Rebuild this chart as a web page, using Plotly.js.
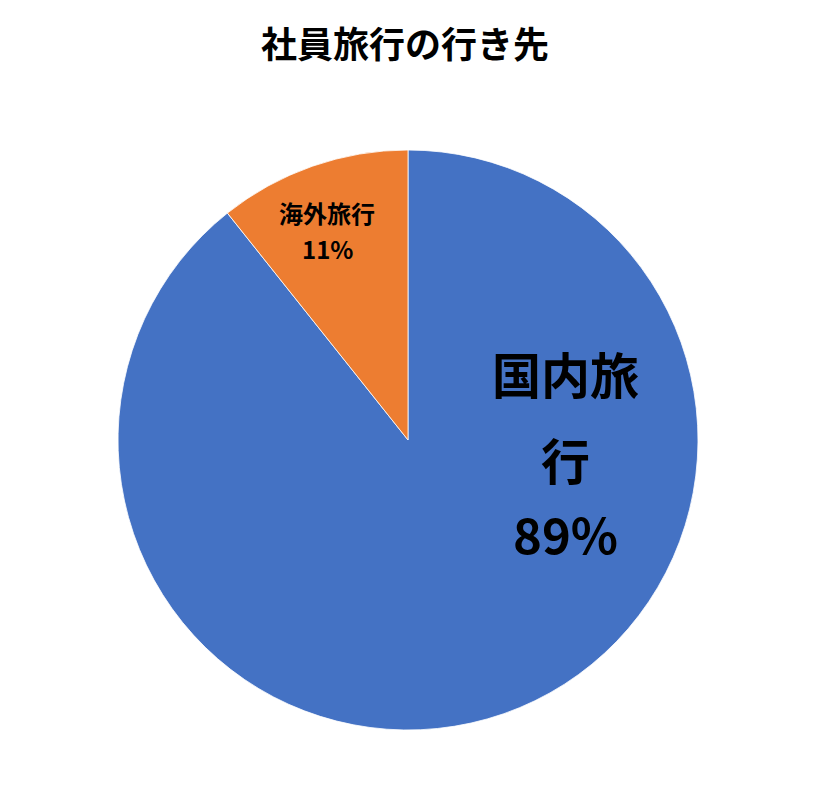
<!DOCTYPE html>
<html>
<head>
<meta charset="utf-8">
<script src="https://cdn.plot.ly/plotly-3.0.1.min.js"></script>
<style>
  html, body { margin: 0; padding: 0; background: #fff; }
  #chart { width: 816px; height: 798px; }
</style>
</head>
<body>
<div id="chart"></div>
<script>
// 社員旅行の行き先
const categories = ['国内旅行', '海外旅行'];
const values     = [89.3, 10.7];
const colors     = ['#4472C4', '#ED7D31'];

// ラベルの改行位置（参照画像どおり）
const labelLines = [['国内旅', '行'], ['海外旅行']];

const W = 816, H = 798;
const FONT = '"Noto Sans CJK JP", "Noto Sans", sans-serif';

// ── ラベル配置（ピクセル → paper座標） ─────────────
const labelStyle = [
  { x: 565, ys: [372, 458, 532], size: 49 },
  { x: 327, ys: [212, 248],      size: 24 },
];

const total = values.reduce((a, b) => a + b, 0);
const annotations = [];
categories.forEach((c, i) => {
  const pct = Math.round(values[i] / total * 100) + '%';
  const lines = [...labelLines[i], pct];
  const st = labelStyle[i];
  lines.forEach((t, k) => {
    annotations.push({
      xref: 'paper', yref: 'paper',
      x: st.x / W, y: 1 - st.ys[k] / H,
      xanchor: 'center', yanchor: 'middle',
      text: '<b>' + t + '</b>', showarrow: false,
      font: { family: FONT, size: st.size, color: '#000' },
    });
  });
});

const cx = 408, cy = 440, r = 290;

Plotly.newPlot('chart', [{
  type: 'pie',
  labels: categories,
  values,
  sort: false,
  direction: 'clockwise',
  rotation: 0,
  textinfo: 'none',
  hoverinfo: 'label+percent',
  marker: { colors, line: { color: '#fff', width: 0.8 } },
  domain: {
    x: [(cx - r) / W, (cx + r) / W],
    y: [1 - (cy + r) / H, 1 - (cy - r) / H],
  },
}], {
  width: W, height: H,
  margin: { t: 0, b: 0, l: 0, r: 0 },
  paper_bgcolor: '#fff',
  showlegend: false,
  title: {
    text: '<b>社員旅行の行き先</b>',
    x: 405 / W, xanchor: 'center',
    y: 1 - 45 / H, yanchor: 'middle',
    font: { family: FONT, size: 36, color: '#000' },
  },
  annotations,
}, { displayModeBar: false, staticPlot: true });
</script>
</body>
</html>
